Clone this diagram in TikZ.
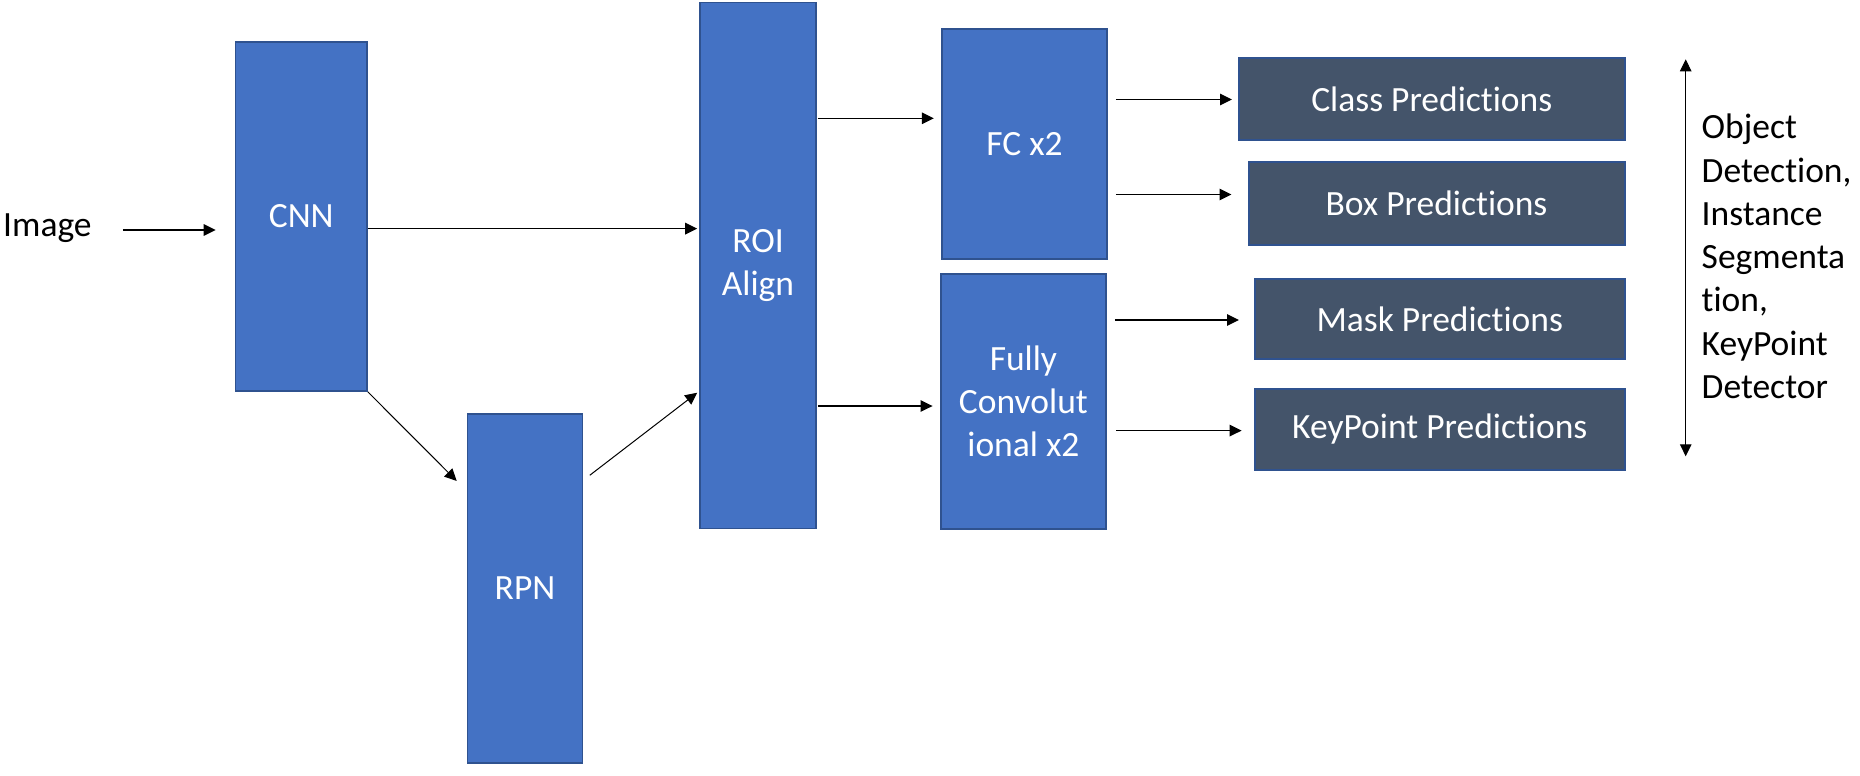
\documentclass[tikz,border=0pt]{standalone}
\usepackage{fontspec}
\setmainfont{Carlito}[Ligatures={NoCommon,NoContextual}]
\usetikzlibrary{arrows.meta,calc}
\definecolor{bluefill}{HTML}{4472C4}
\definecolor{blueedge}{HTML}{2F528F}
\definecolor{darkfill}{HTML}{44546A}
\begin{document}
\begin{tikzpicture}[x=1pt,y=-1pt,
  every node/.style={font=\fontsize{35.5}{43.3}\selectfont, inner sep=0pt},
  bluebox/.style={draw=blueedge, fill=bluefill, line width=1.6pt, text=white, align=center},
  darkbox/.style={draw=blueedge, fill=darkfill, line width=2pt, text=white, align=center},
  arr/.style={-{Triangle[length=12pt,width=11.5pt]}, line width=1.3pt},
  thinarr/.style={-{Triangle[length=12pt,width=11.5pt]}, line width=1pt}]
\useasboundingbox (0,0) rectangle (1860,776);

% blocks
\node[bluebox, minimum width=131.5pt, minimum height=349pt] (CNN) at (301.25,216.5) {CNN};
\node[bluebox, minimum width=115pt, minimum height=349.3pt] (RPN) at (525,588.4) {RPN};
\node[bluebox, minimum width=116pt, minimum height=526pt] (ROI) at (758,265.5) {ROI\\Align};
\node[bluebox, minimum width=165pt, minimum height=230.3pt] (FC) at (1024.5,143.9) {FC x2};
\node[bluebox, minimum width=165.3pt, minimum height=255pt] (FConv) at (1023.4,401.2) {Fully\\Convolut\\ional x2};

\node[darkbox, minimum width=385.5pt, minimum height=81.2pt] (Class) at (1431.75,99) {Class Predictions};
\node[darkbox, minimum width=376pt, minimum height=82.5pt] (Box) at (1436.5,203.3) {Box Predictions};
\node[darkbox, minimum width=369.5pt, minimum height=80.7pt] (Mask) at (1439.75,319) {Mask Predictions};
\node[darkbox, minimum width=369.5pt, minimum height=81.5pt] (KP) at (1439.75,429.3) {KeyPoint Predictions};

% labels
\node[anchor=base west] (Image) at (3,236.5) {Image};
\node[anchor=west, align=left] (task) at (1701.5,256.5) {Object\\Detection,\\Instance\\Segmenta\\tion,\\KeyPoint\\Detector};

% connectors
\draw[arr] ($(Image.base east)+(31,-6.5)$) -- ($(CNN.west |- Image.base)+(-19,-6.5)$);
\draw[arr] ($(CNN.east)+(0,12.1)$) -- ($(ROI.west |- CNN.east)+(-2,12.1)$);
\draw[thinarr] (CNN.south east) -- ($(RPN.north west)+(-10,68)$);
\draw[thinarr] ($(RPN.north east)+(6.5,62.3)$) -- ($(ROI.south west)+(-2,-136.6)$);
\draw[arr] ($(ROI.east |- FC.west)+(1,-25.6)$) -- ($(FC.west)+(-7.4,-25.6)$);
\draw[arr] ($(ROI.east |- FConv.west)+(1,4.8)$) -- ($(FConv.west)+(-7.4,4.8)$);
\draw[arr] ($(FC.east |- Class.west)+(8,0.5)$) -- ($(Class.west)+(-6,0.5)$);
\draw[arr] ($(FC.east |- Box.west)+(8,-8.8)$) -- ($(Box.west)+(-16,-8.8)$);
\draw[arr] ($(FConv.east |- Mask.west)+(8,1)$) -- ($(Mask.west)+(-15,1)$);
\draw[arr] ($(FConv.east |- KP.west)+(9.6,1.3)$) -- ($(KP.west)+(-12.4,1.3)$);

\coordinate (dtop) at (1685.7,59.3);
\coordinate (dbot) at (1685.7,456.3);
\draw[{Triangle[length=12pt,width=11.5pt]}-{Triangle[length=12pt,width=11.5pt]}, line width=1pt] (dtop) -- (dbot);
\end{tikzpicture}
\end{document}
